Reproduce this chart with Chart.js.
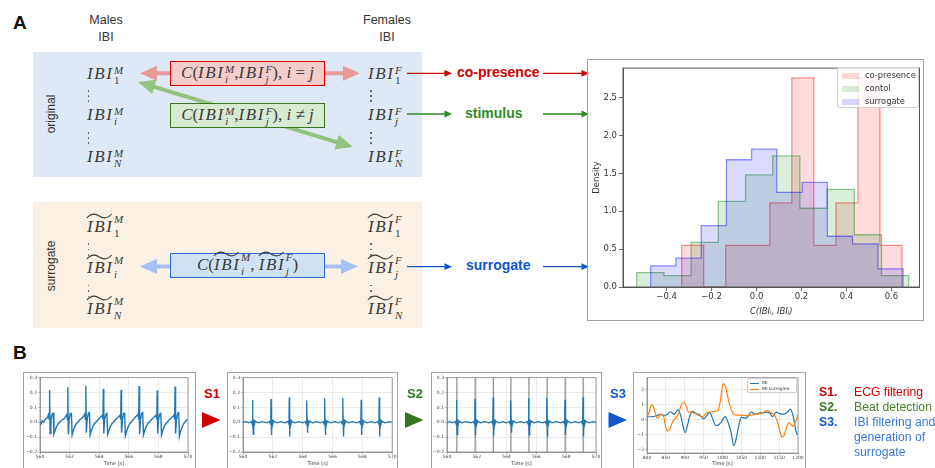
<!DOCTYPE html>
<html>
<head>
<meta charset="utf-8">
<script src="https://cdn.jsdelivr.net/npm/chart.js@4.4.0/dist/chart.umd.min.js"></script>
<style>
html,body{margin:0;padding:0;background:#fff;}
#page{position:relative;width:935px;height:468px;overflow:hidden;font-family:"Liberation Sans",Arial,sans-serif;color:#333;}
.abs{position:absolute;}
.letter{font-weight:bold;font-size:19px;line-height:19px;color:#111;}
.hdr{font-size:12.5px;line-height:16.5px;text-align:center;color:#333;}
.rot{position:absolute;transform:translate(-50%,-50%) rotate(-90deg);font-size:12px;white-space:nowrap;color:#333;}
.m{position:absolute;font-family:"Liberation Serif","Times New Roman",serif;font-style:italic;font-size:17px;line-height:17px;color:#3c3c3c;white-space:nowrap;}
.r{font-style:normal;}
.ib{letter-spacing:1.6px;}
.ib.t{position:relative;display:inline-block;}
.tl{position:absolute;left:-1px;top:-5px;width:100%;height:6px;overflow:visible;}
.sc{display:inline-block;vertical-align:-5px;font-size:11px;line-height:10px;margin-left:0.5px;}
.sc i{display:block;font-style:italic;}
.sc i.n{font-style:normal;}
.st .u{position:relative;top:-4px;}
.box{position:absolute;box-sizing:border-box;display:flex;align-items:center;justify-content:center;}
.box .m{position:static;}
.dot{position:absolute;width:1.6px;height:1.6px;border-radius:50%;background:#555;}
.tag{position:absolute;font-weight:bold;font-size:14px;line-height:14px;white-space:nowrap;}
.frame{position:absolute;box-sizing:border-box;border:1.5px solid #a3a3a3;}
.cv{position:absolute;}
.sl{position:absolute;font-weight:bold;font-size:13px;line-height:13px;}
.leg{position:absolute;font-size:12.2px;line-height:15px;white-space:nowrap;}
.hleg{position:absolute;box-sizing:border-box;background:rgba(255,255,255,0.8);border:1px solid #d0d0d0;border-radius:2px;font-family:"DejaVu Sans",sans-serif;font-size:8.3px;color:#333;}
.hleg div{position:absolute;white-space:nowrap;}
.pleg{position:absolute;box-sizing:border-box;background:rgba(255,255,255,0.85);border:0.8px solid #d0d0d0;border-radius:1px;font-family:"DejaVu Sans",sans-serif;font-size:4.3px;color:#333;}
.pleg div{position:absolute;white-space:nowrap;}
</style>
</head>
<body>
<div id="page">
  <div class="abs letter" style="left:13px;top:13px">A</div>
  <div class="abs hdr" style="left:76px;top:12px;width:60px">Males<br>IBI</div>
  <div class="abs hdr" style="left:357px;top:12px;width:60px">Females<br>IBI</div>
  <div class="abs" style="left:33px;top:52px;width:389px;height:125px;background:#dfe9f5"></div>
  <div class="abs" style="left:33px;top:202px;width:389px;height:126px;background:#fbf0e4"></div>
  <div class="rot" style="left:51px;top:114px">original</div>
  <div class="rot" style="left:51px;top:266px">surrogate</div>
  <svg id="arrows" class="abs" style="left:0;top:0" width="935" height="468"></svg>
  <div id="labels"></div>
  <div class="box" id="boxR" style="left:170px;top:61px;width:155px;height:25px;background:#f4cccc;border:1.5px solid #e00000"></div>
  <div class="box" id="boxG" style="left:170px;top:103px;width:155px;height:25px;background:#d9ead3;border:1.3px solid #38761d"></div>
  <div class="box" id="boxB" style="left:170px;top:253px;width:155px;height:25px;background:#cfe2f3;border:1.5px solid #2a6ad6"></div>

  <div class="tag" style="left:457px;top:65px;color:#cc0000">co-presence</div>
  <div class="tag" style="left:465px;top:106px;color:#2e8b22">stimulus</div>
  <div class="tag" style="left:466px;top:258px;color:#1155cc">surrogate</div>

  <div class="frame" style="left:587px;top:59px;width:337px;height:262px"></div>
  <canvas id="hist" class="cv" width="334" height="258" style="left:589px;top:61px"></canvas>
  <div class="hleg" id="hleg" style="left:837px;top:67px;width:82px;height:41px"></div>

  <div class="abs letter" style="left:13px;top:343px">B</div>
  <div class="frame" style="left:23px;top:372px;width:173px;height:110px"></div>
  <div class="frame" style="left:227px;top:372px;width:171px;height:110px"></div>
  <div class="frame" style="left:431px;top:372px;width:171px;height:110px"></div>
  <div class="frame" style="left:633px;top:372px;width:173px;height:110px"></div>
  <canvas id="p1" class="cv" width="170" height="94" style="left:25px;top:374px"></canvas>
  <canvas id="p2" class="cv" width="168" height="94" style="left:229px;top:374px"></canvas>
  <canvas id="p3" class="cv" width="168" height="94" style="left:433px;top:374px"></canvas>
  <canvas id="p4" class="cv" width="170" height="94" style="left:635px;top:374px"></canvas>
  <div class="pleg" id="pleg" style="left:747px;top:378px;width:50px;height:15px"></div>

  <div class="sl" style="left:204px;top:387px;color:#cc0000">S1</div>
  <div class="sl" style="left:407px;top:387px;color:#38761d">S2</div>
  <div class="sl" style="left:610px;top:387px;color:#1155cc">S3</div>

  <div class="leg" style="left:819px;top:385px;font-weight:bold;color:#cc0000">S1.</div>
  <div class="leg" style="left:854px;top:385px;color:#cc0000">ECG filtering</div>
  <div class="leg" style="left:819px;top:400px;font-weight:bold;color:#38761d">S2.</div>
  <div class="leg" style="left:854px;top:400px;color:#4a7f2a">Beat detection</div>
  <div class="leg" style="left:819px;top:415px;font-weight:bold;color:#1155cc">S3.</div>
  <div class="leg" style="left:854px;top:415px;color:#3c78d8">IBI filtering and<br>generation of<br>surrogate</div>
</div>

<script>
// ---------------- DATA ----------------
// Histogram (density) of C(IBI_i, IBI_j)
const histLabels = ['co-presence', 'contol', 'surrogate'];
const coEdges   = [-0.333, -0.235, -0.137, -0.039, 0.059, 0.157, 0.255, 0.353, 0.451, 0.549, 0.647];
const coDensity = [0.55, 0.00, 0.55, 0.55, 1.11, 2.76, 0.55, 1.11, 2.76, 0.55];
const ctEdges   = [-0.533, -0.412, -0.291, -0.170, -0.049, 0.072, 0.193, 0.314, 0.435, 0.556, 0.677];
const ctDensity = [0.19, 0.15, 0.59, 1.13, 1.48, 1.73, 1.04, 1.29, 0.69, 0.15];
const suEdges   = [-0.471, -0.359, -0.246, -0.134, -0.022, 0.090, 0.203, 0.315, 0.427, 0.540, 0.652];
const suDensity = [0.28, 0.38, 0.81, 1.68, 1.82, 1.25, 1.38, 0.67, 0.57, 0.24];
const histXTicks = [-0.4, -0.2, 0.0, 0.2, 0.4, 0.6];
const histYTicks = [0.0, 0.5, 1.0, 1.5, 2.0, 2.5];

// Panel B1: raw ECG [time s, value]
const ecgRaw = [
[560.00,0.000],[560.08,-0.010],[560.15,0.010],[560.25,0.000],[560.35,0.020],[560.50,0.030],[560.57,0.050],[560.62,0.020],
[560.65,0.218],[560.68,-0.075],[560.74,0.020],[560.82,0.055],[560.89,0.060],[560.94,-0.080],[561.01,-0.060],[561.11,-0.030],[561.23,-0.010],[561.37,0.005],[561.50,0.015],[561.63,0.025],[561.73,0.040],[561.80,0.050],[561.85,0.020],
[561.88,0.235],[561.91,-0.080],[561.97,0.020],[562.05,0.060],[562.12,0.060],[562.17,-0.085],[562.24,-0.060],[562.34,-0.030],[562.46,-0.010],[562.60,0.005],[562.73,0.020],[562.85,0.030],[562.95,0.040],[563.02,0.055],[563.07,0.020],
[563.10,0.246],[563.13,-0.070],[563.19,0.020],[563.27,0.060],[563.34,0.065],[563.39,-0.085],[563.46,-0.060],[563.56,-0.030],[563.68,-0.010],[563.82,0.005],[563.95,0.020],[564.05,0.030],[564.15,0.040],[564.22,0.050],[564.25,0.020],
[564.28,0.225],[564.31,-0.075],[564.37,0.020],[564.45,0.055],[564.52,0.060],[564.57,-0.080],[564.64,-0.060],[564.74,-0.030],[564.86,-0.010],[565.00,0.005],[565.13,0.020],[565.25,0.030],[565.35,0.040],[565.42,0.050],[565.45,0.020],
[565.48,0.218],[565.51,-0.070],[565.57,0.020],[565.65,0.060],[565.72,0.060],[565.77,-0.090],[565.84,-0.065],[565.94,-0.035],[566.06,-0.010],[566.20,0.005],[566.33,0.020],[566.45,0.035],[566.55,0.045],[566.63,0.055],[566.67,0.020],
[566.70,0.244],[566.73,-0.080],[566.79,0.020],[566.87,0.060],[566.94,0.065],[566.99,-0.085],[567.06,-0.060],[567.16,-0.030],[567.28,-0.010],[567.42,0.005],[567.55,0.020],[567.67,0.030],[567.77,0.040],[567.85,0.050],[567.89,0.020],
[567.92,0.214],[567.95,-0.075],[568.01,0.020],[568.09,0.055],[568.16,0.060],[568.21,-0.085],[568.28,-0.060],[568.38,-0.030],[568.50,-0.010],[568.64,0.005],[568.77,0.020],[568.89,0.030],[568.99,0.040],[569.06,0.050],[569.10,0.020],
[569.13,0.240],[569.16,-0.075],[569.22,0.020],[569.30,0.060],[569.37,0.065],[569.42,-0.095],[569.49,-0.065],[569.59,-0.035],[569.71,-0.010],[569.85,0.010],[570.00,0.020]
];

// Panels B2/B3: filtered ECG [time s, value]
const ecgFiltered = [
[560.00,0.000],[560.20,0.004],[560.40,-0.004],[560.55,0.005],[560.61,-0.012],[560.63,0.015],[560.65,0.150],[560.67,-0.010],[560.69,-0.082],[560.72,0.020],[560.76,-0.015],[560.82,0.008],[561.00,-0.004],[561.30,0.004],[561.60,-0.004],
[561.78,0.005],[561.84,-0.012],[561.86,0.015],[561.88,0.157],[561.90,-0.010],[561.92,-0.085],[561.95,0.020],[561.99,-0.015],[562.05,0.008],[562.25,-0.004],[562.55,0.004],[562.80,-0.004],
[563.00,0.005],[563.06,-0.012],[563.08,0.015],[563.10,0.167],[563.12,-0.010],[563.14,-0.095],[563.17,0.020],[563.21,-0.015],[563.27,0.008],[563.45,-0.004],[563.75,0.004],[564.00,-0.004],
[564.18,0.005],[564.24,-0.012],[564.26,0.015],[564.28,0.146],[564.30,-0.010],[564.32,-0.070],[564.35,0.020],[564.39,-0.015],[564.45,0.008],[564.65,-0.004],[564.95,0.004],[565.20,-0.004],
[565.38,0.005],[565.44,-0.012],[565.46,0.015],[565.48,0.161],[565.50,-0.010],[565.52,-0.085],[565.55,0.020],[565.59,-0.015],[565.65,0.008],[565.85,-0.004],[566.15,0.004],[566.40,-0.004],
[566.60,0.005],[566.66,-0.012],[566.68,0.015],[566.70,0.163],[566.72,-0.010],[566.74,-0.095],[566.77,0.020],[566.81,-0.015],[566.87,0.008],[567.05,-0.004],[567.35,0.004],[567.62,-0.004],
[567.82,0.005],[567.88,-0.012],[567.90,0.015],[567.92,0.152],[567.94,-0.010],[567.96,-0.085],[567.99,0.020],[568.03,-0.015],[568.09,0.008],[568.30,-0.004],[568.60,0.004],[568.85,-0.004],
[569.03,0.005],[569.09,-0.012],[569.11,0.015],[569.13,0.167],[569.15,-0.010],[569.17,-0.095],[569.20,0.020],[569.24,-0.015],[569.30,0.008],[569.50,-0.004],[569.80,0.004],[570.00,0.000]
];
const beatTimes = [560.66, 561.89, 563.11, 564.29, 565.50, 566.72, 567.93, 569.14];

// Panel B4: IBI and IBI surrogate [time s, value]
const ibiSeries = [
[800,0.18],[815,0.20],[825,0.25],[835,0.35],[845,0.28],[852,0.30],[862,0.52],[872,0.35],[882,0.65],[889,0.30],[895,-0.40],[901,-0.88],[907,-0.40],[913,0.20],[920,0.55],[930,0.40],[940,0.30],[950,0.05],[958,0.25],[966,0.48],[974,0.05],[982,-0.40],[990,-0.35],[998,-0.10],[1007,0.20],[1015,-0.20],[1023,-0.90],[1030,-1.75],[1037,-1.20],[1044,-0.30],[1050,0.15],[1058,0.10],[1066,0.15],[1076,0.50],[1088,0.35],[1098,0.45],[1108,0.45],[1115,0.50],[1124,0.45],[1133,0.20],[1142,0.50],[1152,0.38],[1160,0.35],[1170,0.45],[1180,0.70],[1188,0.15],[1194,-0.70],[1198,-1.00],[1200,-0.95]
];
const ibiSurrogate = [
[800,0.20],[806,0.50],[812,1.00],[818,0.80],[824,0.20],[829,0.10],[836,0.35],[843,0.30],[848,-0.30],[854,-0.78],[861,-0.60],[868,-0.15],[876,0.10],[884,0.40],[891,1.00],[898,1.15],[904,0.90],[910,0.50],[918,0.50],[928,0.40],[938,0.25],[948,0.20],[958,0.45],[968,0.50],[978,0.55],[988,0.60],[994,1.20],[1002,2.40],[1008,2.20],[1014,1.50],[1020,0.90],[1028,0.40],[1038,0.30],[1050,0.30],[1062,0.25],[1075,0.30],[1088,0.35],[1100,0.40],[1110,0.50],[1120,0.62],[1128,0.45],[1138,0.30],[1145,-0.10],[1152,-0.80],[1158,-1.20],[1164,-1.00],[1170,-0.50],[1176,-0.20],[1182,-0.35],[1188,-0.45],[1194,-0.10],[1200,0.30]
];
const ecgXTicks = [560, 562, 564, 566, 568, 570];
const ecgYTicks = [-0.2, -0.1, 0.0, 0.1, 0.2, 0.3];
const ibiXTicks = [800, 850, 900, 950, 1000, 1050, 1100, 1150, 1200];
const ibiYTicks = [-2, -1, 0, 1, 2];
const ibiLabels = ['IBI', 'IBI surrogate'];

// ---------------- DIAGRAM ----------------
const TILDE = '<svg class="tl" viewBox="0 0 30 6" preserveAspectRatio="none"><path d="M1,5 C6,0 10,0 15,3 S24,6 29,1" fill="none" stroke="#3c3c3c" stroke-width="1.1" vector-effect="non-scaling-stroke"/></svg>';
function ibi(sup, sub, t) {
  const n = /\d/.test(sub) ? ' n' : '';
  return '<span class="ib' + (t ? ' t' : '') + '">IBI' + (t ? TILDE : '') + '</span>' +
         '<span class="sc' + (t ? ' st' : '') + '"><i class="u">' + sup + '</i><i class="d' + n + '">' + sub + '</i></span>';
}
const labelsDiv = document.getElementById('labels');
function place(html, left, baseline) {
  const d = document.createElement('div');
  d.className = 'm';
  d.style.left = left + 'px';
  d.style.top = (baseline - 14.2) + 'px';
  d.innerHTML = html;
  labelsDiv.appendChild(d);
}
[[79,'1'],[120,'i'],[162,'N']].forEach(([b,s]) => place(ibi('M', s, false), 87, b));
[[79,'1'],[120,'j'],[162,'N']].forEach(([b,s]) => place(ibi('F', s, false), 368, b));
[[232,'1'],[273,'i'],[314,'N']].forEach(([b,s]) => place(ibi('M', s, true), 87, b));
[[232,'1'],[273,'j'],[314,'N']].forEach(([b,s]) => place(ibi('F', s, true), 368, b));
function vdots(x, ys) {
  ys.forEach(y => { const d = document.createElement('div'); d.className = 'dot'; d.style.left = (x - 0.8) + 'px'; d.style.top = (y - 0.8) + 'px'; labelsDiv.appendChild(d); });
}
vdots(88.5, [91, 96, 101]); vdots(88.5, [133, 138, 143]);
vdots(371, [91, 96, 101]); vdots(371, [133, 138, 143]);
vdots(88.5, [244, 249.5, 255]); vdots(88.5, [285.5, 291, 296.5]);
vdots(371, [244, 249.5, 255]); vdots(371, [285.5, 291, 296.5]);

function formula(boxId, inner) {
  document.getElementById(boxId).innerHTML = '<span class="m">' + inner + '</span>';
}
formula('boxR', 'C<span class="r">(</span>' + ibi('M','i') + '<span class="r">,</span>' + ibi('F','j') + '<span class="r">), </span>i <span class="r">=</span> j');
formula('boxG', 'C<span class="r">(</span>' + ibi('M','i') + '<span class="r">,</span>' + ibi('F','j') + '<span class="r">), </span>i <span class="r">&ne;</span> j');
formula('boxB', 'C<span class="r">(</span>' + ibi('M','i',true) + '<span class="r">, </span>' + ibi('F','j',true) + '<span class="r">)</span>');

const svg = document.getElementById('arrows');
const NS = 'http://www.w3.org/2000/svg';
function arrow(x1, y1, x2, y2, color, w, hl, hw) {
  const dx = x2 - x1, dy = y2 - y1, L = Math.hypot(dx, dy), ux = dx / L, uy = dy / L, nx = -uy, ny = ux;
  const bx = x2 - ux * hl, by = y2 - uy * hl;
  const ln = document.createElementNS(NS, 'line');
  ln.setAttribute('x1', x1); ln.setAttribute('y1', y1); ln.setAttribute('x2', bx + ux * 1); ln.setAttribute('y2', by + uy * 1);
  ln.setAttribute('stroke', color); ln.setAttribute('stroke-width', w);
  svg.appendChild(ln);
  const p = document.createElementNS(NS, 'polygon');
  p.setAttribute('points', x2 + ',' + y2 + ' ' + (bx + nx * hw) + ',' + (by + ny * hw) + ' ' + (bx - nx * hw) + ',' + (by - ny * hw));
  p.setAttribute('fill', color);
  svg.appendChild(p);
}
arrow(172, 73.3, 140, 73.3, '#ea9999', 4, 17, 7.5);
arrow(323, 73.3, 360, 73.3, '#ea9999', 4, 17, 7.5);
arrow(245.5, 114.5, 138, 82, '#93c47d', 4, 17, 7.5);
arrow(245.5, 114.5, 353, 147, '#93c47d', 4, 17, 7.5);
arrow(172, 266.5, 140, 266.5, '#a4c2f4', 4, 17, 7.5);
arrow(323, 266.5, 358, 266.5, '#a4c2f4', 4, 17, 7.5);
arrow(407, 73.3, 452, 73.3, '#cc0000', 1.3, 7.5, 3.4);
arrow(543, 73.3, 589, 73.3, '#cc0000', 1.3, 7.5, 3.4);
arrow(407, 114, 452, 114, '#2e8b22', 1.3, 7.5, 3.4);
arrow(543, 114, 589, 114, '#2e8b22', 1.3, 7.5, 3.4);
arrow(407, 266.7, 452, 266.7, '#1155cc', 1.3, 7.5, 3.4);
arrow(543, 266.7, 589, 266.7, '#1155cc', 1.3, 7.5, 3.4);
// step triangles between panels
[[202, '#cc0000'], [405, '#38761d'], [608.5, '#1155cc']].forEach(([x, c]) => {
  const p = document.createElementNS(NS, 'polygon');
  p.setAttribute('points', x + ',412 ' + (x + 18.5) + ',420 ' + x + ',428');
  p.setAttribute('fill', c);
  svg.appendChild(p);
});

// ---------------- CHARTS ----------------
const DV = '"DejaVu Sans", sans-serif';
const fmt1 = v => (v < 0 ? '\u2212' : '') + Math.abs(v).toFixed(1);
const fmt0 = v => (v < 0 ? '\u2212' : '') + Math.abs(v).toFixed(0);
const framePlugin = {
  id: 'frame',
  afterDraw(c, a, o) {
    if (!o || !o.color) return;
    const ctx = c.ctx, ca = c.chartArea;
    ctx.save(); ctx.strokeStyle = o.color; ctx.lineWidth = o.width;
    ctx.strokeRect(ca.left, ca.top, ca.right - ca.left, ca.bottom - ca.top);
    ctx.restore();
  }
};
const beatPlugin = {
  id: 'beats',
  beforeDatasetsDraw(c, a, o) {
    if (!o || !o.times) return;
    const x = c.scales.x, ca = c.chartArea, ctx = c.ctx;
    ctx.save();
    o.times.forEach(t => {
      const px = x.getPixelForValue(t);
      ctx.strokeStyle = 'rgba(0,0,0,0.07)'; ctx.lineWidth = 2.2;
      ctx.beginPath(); ctx.moveTo(px, ca.top); ctx.lineTo(px, ca.bottom); ctx.stroke();
      ctx.strokeStyle = 'rgba(70,70,70,0.8)'; ctx.lineWidth = 0.8;
      ctx.beginPath(); ctx.moveTo(px, ca.top); ctx.lineTo(px, ca.bottom); ctx.stroke();
    });
    ctx.restore();
  }
};
Chart.register(framePlugin, beatPlugin);

function stepData(edges, heights) {
  const d = [{x: edges[0], y: 0}];
  heights.forEach((h, i) => d.push({x: edges[i + 1], y: h}));
  d.push({x: edges[edges.length - 1], y: 0});
  return d;
}
const histColors = [[255, 0, 0], [0, 128, 0], [0, 0, 255]];
const rgba = (c, a) => 'rgba(' + c[0] + ',' + c[1] + ',' + c[2] + ',' + a + ')';
const histSets = [
  {edges: coEdges, dens: coDensity},
  {edges: ctEdges, dens: ctDensity},
  {edges: suEdges, dens: suDensity}
].map((s, i) => ({
  label: histLabels[i],
  data: stepData(s.edges, s.dens),
  stepped: 'after',
  fill: 'origin',
  backgroundColor: rgba(histColors[i], 0.14),
  borderColor: rgba(histColors[i], 0.42),
  borderWidth: 1.3,
  pointRadius: 0,
  order: 2 - i
}));

new Chart(document.getElementById('hist'), {
  type: 'line',
  data: {datasets: histSets},
  options: {
    responsive: false, animation: false, events: [],
    layout: {padding: {left: 0, top: 4, right: 3.5, bottom: 0}},
    plugins: {legend: {display: false}, tooltip: {enabled: false}, frame: {color: '#555', width: 1}},
    scales: {
      x: {
        type: 'linear', min: -0.594, max: 0.725,
        afterBuildTicks: s => { s.ticks = histXTicks.map(v => ({value: v})); },
        afterFit: s => { s.height = 32; },
        ticks: {font: {family: DV, size: 8.5}, color: '#333', padding: 1, maxRotation: 0, autoSkip: false, callback: v => fmt1(v)},
        grid: {drawOnChartArea: false, drawTicks: true, tickLength: 4, tickColor: '#444', tickWidth: 0.8},
        border: {color: '#555', width: 1},
        title: {display: true, text: 'C(IBI\u1d62, IBI\u2c7c)', font: {family: DV, size: 8.5, style: 'italic'}, color: '#333', padding: {top: 0, bottom: 2}}
      },
      y: {
        type: 'linear', min: 0, max: 2.89,
        afterBuildTicks: s => { s.ticks = histYTicks.map(v => ({value: v})); },
        afterFit: s => { s.width = 34; },
        ticks: {font: {family: DV, size: 8.5}, color: '#333', padding: 2, autoSkip: false, callback: v => fmt1(v)},
        grid: {drawOnChartArea: false, drawTicks: true, tickLength: 4, tickColor: '#444', tickWidth: 0.8},
        border: {color: '#555', width: 1},
        title: {display: true, text: 'Density', font: {family: DV, size: 8.5}, color: '#333', padding: {top: 3, bottom: 0}}
      }
    }
  }
});

// histogram legend
(function () {
  const L = document.getElementById('hleg');
  histLabels.forEach((t, i) => {
    const p = document.createElement('div');
    p.style.cssText = 'left:4px;top:' + (5 + i * 13) + 'px;width:17px;height:6px;background:' + rgba(histColors[i], 0.16) + ';';
    L.appendChild(p);
    const tx = document.createElement('div');
    tx.style.cssText = 'left:27px;top:' + (2 + i * 13) + 'px;line-height:11px;';
    tx.textContent = t;
    L.appendChild(tx);
  });
})();

function mini(id, cfg) {
  return new Chart(document.getElementById(id), {
    type: 'line',
    data: {datasets: cfg.datasets},
    options: {
      responsive: false, animation: false, events: [],
      layout: {padding: cfg.pad},
      plugins: {legend: {display: false}, tooltip: {enabled: false}, frame: {color: '#888', width: 0.8}, beats: cfg.beats || {}},
      elements: {point: {radius: 0}},
      scales: {
        x: {
          type: 'linear', min: cfg.xmin, max: cfg.xmax,
          afterBuildTicks: s => { s.ticks = cfg.xTicks.map(v => ({value: v})); },
          afterFit: s => { s.height = cfg.xh; },
          ticks: {font: {family: DV, size: 4.5}, color: '#444', padding: 0.5, maxRotation: 0, autoSkip: false, callback: v => String(v)},
          grid: {color: '#dedede', lineWidth: 0.6, tickLength: 2, tickColor: '#777', tickWidth: 0.5},
          border: {color: '#888', width: 0.8},
          title: {display: true, text: 'Time [s]', font: {family: DV, size: 5}, color: '#333', padding: {top: 0, bottom: 1.2}}
        },
        y: {
          type: 'linear', min: cfg.ymin, max: cfg.ymax,
          afterBuildTicks: s => { s.ticks = cfg.yTicks.map(v => ({value: v})); },
          afterFit: s => { s.width = cfg.yw; },
          ticks: {font: {family: DV, size: 4.5}, color: '#444', padding: 1, autoSkip: false, callback: cfg.yfmt},
          grid: {color: '#dedede', lineWidth: 0.6, tickLength: 2, tickColor: '#777', tickWidth: 0.5},
          border: {color: '#888', width: 0.8}
        }
      }
    }
  });
}
const toXY = arr => arr.map(([x, y]) => ({x: x, y: y}));
const C0 = '#1f77b4', C1 = '#ff7f0e';
mini('p1', {
  datasets: [{data: toXY(ecgRaw), borderColor: C0, borderWidth: 1.4, tension: 0}],
  pad: {left: 0, top: 1, right: 7, bottom: 0}, yw: 15, xh: 16,
  xmin: 560, xmax: 570, ymin: -0.2, ymax: 0.3, xTicks: ecgXTicks, yTicks: ecgYTicks, yfmt: fmt1
});
mini('p2', {
  datasets: [{data: toXY(ecgFiltered), borderColor: C0, borderWidth: 1.3, tension: 0}],
  pad: {left: 0, top: 0.5, right: 4, bottom: 0}, yw: 14, xh: 16,
  xmin: 560, xmax: 570, ymin: -0.2, ymax: 0.3, xTicks: ecgXTicks, yTicks: ecgYTicks, yfmt: fmt1
});
mini('p3', {
  datasets: [{data: toXY(ecgFiltered), borderColor: C0, borderWidth: 1.3, tension: 0}],
  pad: {left: 0, top: 1, right: 5, bottom: 0}, yw: 14, xh: 16,
  xmin: 560, xmax: 570, ymin: -0.2, ymax: 0.3, xTicks: ecgXTicks, yTicks: ecgYTicks, yfmt: fmt1,
  beats: {times: beatTimes}
});
mini('p4', {
  datasets: [
    {data: toXY(ibiSeries), borderColor: C0, borderWidth: 1.2, tension: 0.4, cubicInterpolationMode: 'monotone', order: 1},
    {data: toXY(ibiSurrogate), borderColor: C1, borderWidth: 1.2, tension: 0.4, cubicInterpolationMode: 'monotone', order: 0}
  ],
  pad: {left: 0, top: 2, right: 7, bottom: 0}, yw: 12, xh: 15,
  xmin: 800, xmax: 1200, ymin: -2.24, ymax: 2.8, xTicks: ibiXTicks, yTicks: ibiYTicks, yfmt: fmt0
});
(function () {
  const L = document.getElementById('pleg');
  [C0, C1].forEach((c, i) => {
    const ln = document.createElement('div');
    ln.style.cssText = 'left:2px;top:' + (3.5 + i * 6) + 'px;width:9px;height:1px;background:' + c + ';';
    L.appendChild(ln);
    const tx = document.createElement('div');
    tx.style.cssText = 'left:14px;top:' + (1 + i * 6) + 'px;line-height:6px;';
    tx.textContent = ibiLabels[i];
    L.appendChild(tx);
  });
})();
</script>
</body>
</html>
